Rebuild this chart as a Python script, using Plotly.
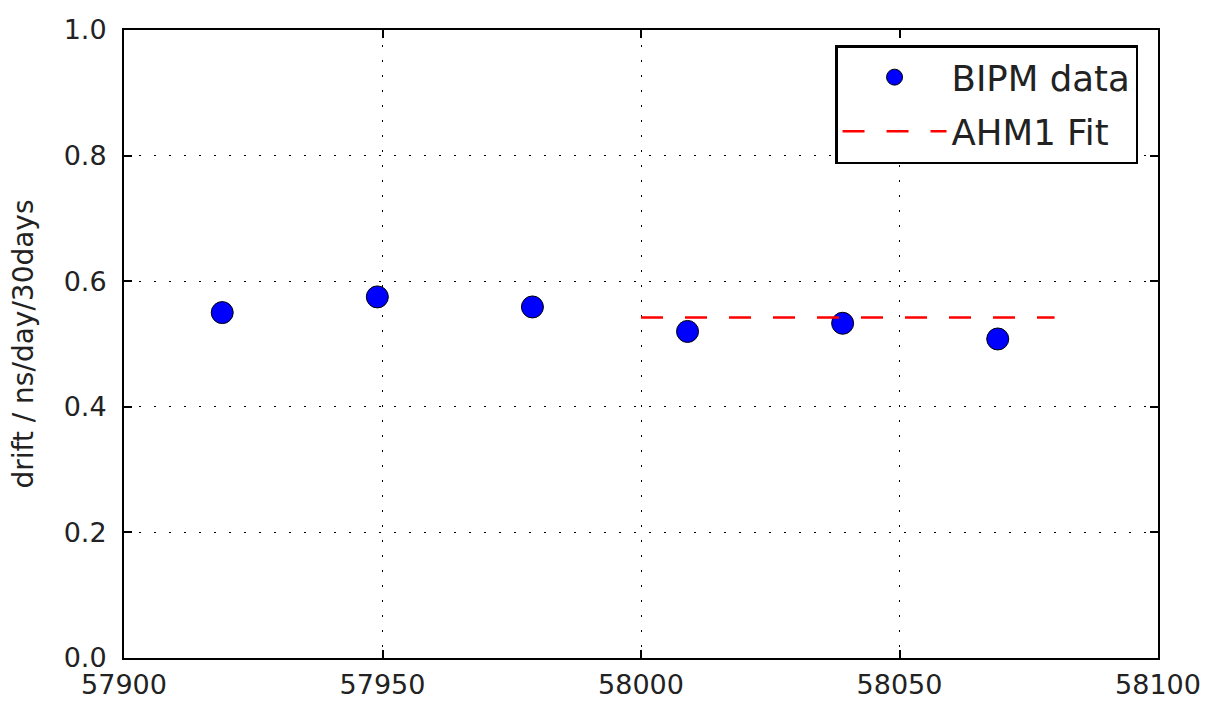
import plotly.graph_objects as go

mjd = [57919, 57949, 57979, 58009, 58039, 58069]
drift = [0.550, 0.575, 0.559, 0.520, 0.533, 0.508]
fit_x = [58000, 58080]
fit_y = [0.542, 0.542]

x_ticks = [57900, 57950, 58000, 58050, 58100]
y_ticks = [0.0, 0.2, 0.4, 0.6, 0.8, 1.0]

fig = go.Figure()
fig.add_trace(go.Scatter(
    x=mjd, y=drift, mode="markers", name="BIPM data", legendgroup="a",
    marker=dict(color="#0000ff", size=22, line=dict(color="black", width=1)),
))
fig.add_trace(go.Scatter(
    x=fit_x, y=fit_y, mode="lines", name="AHM1 Fit", legendgroup="b",
    line=dict(color="#ff0000", width=2.5, dash="22px,22px"),
))

font = dict(family="DejaVu Sans", size=27, color="#222222")
axis_common = dict(
    showline=True, linecolor="black", linewidth=2, mirror="ticks",
    ticks="inside", ticklen=8, tickwidth=1.5, tickcolor="black",
    showgrid=True, gridcolor="black", gridwidth=1.2, griddash="2px,13px",
    zeroline=False, tickfont=font, automargin=False,
)
fig.update_layout(
    width=1211, height=701,
    margin=dict(l=124, r=53, t=30, b=43),
    plot_bgcolor="white", paper_bgcolor="white",
    font=font,
    xaxis=dict(range=[57900, 58100], tickvals=x_ticks,
               ticktext=[str(v) for v in x_ticks], ticklabelstandoff=2,
               **axis_common),
    yaxis=dict(range=[0, 1.0], tickvals=y_ticks,
               ticktext=[f"{v:.1f}" for v in y_ticks], ticklabelstandoff=10,
               title=dict(text="drift / ns/day/30days",
                          font=dict(family="DejaVu Sans", size=28, color="#222222"),
                          standoff=22),
               **axis_common),
    showlegend=True,
    legend=dict(x=0.9807, y=0.976, xanchor="right", yanchor="top",
                bgcolor="white", bordercolor="black", borderwidth=2.5,
                font=dict(family="DejaVu Sans", size=35.5, color="#222222"),
                itemwidth=104, tracegroupgap=5),
)
fig.write_html(
    "out.html",
    config={"displayModeBar": False},
    post_script="document.body.style.margin='0px';document.body.style.overflow='hidden';",
)
